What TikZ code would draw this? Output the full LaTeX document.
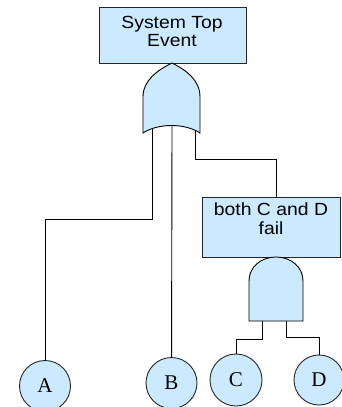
\documentclass[tikz,border=0pt]{standalone}
\usepackage{fontspec}
\newfontfamily\boxfont[FakeStretch=1.1]{Liberation Sans}
\newfontfamily\evfont{Liberation Serif}
\definecolor{evfill}{RGB}{204,234,255}
\begin{document}
\begin{tikzpicture}[x=1pt,y=-1pt,
  line width=0.9pt,
  eventbox/.style={draw=black!85, fill=evfill, minimum width=147pt, minimum height=56pt, inner sep=0pt, anchor=north west,
    align=center, font=\boxfont\fontsize{17.6}{18.4}\selectfont},
  boxtext/.style={font=\boxfont\fontsize{17.6}{18.4}\selectfont, align=center, inner sep=0pt, anchor=north},
  basic/.style={draw=black!85, fill=evfill, circle, minimum size=51pt, inner sep=0pt, font=\evfont\fontsize{21}{21}\selectfont},
  gate/.style={draw=black, fill=evfill, line width=0.9pt},
  wire/.style={draw=black, line width=0.9pt}]
\useasboundingbox (0,0) rectangle (341,407);
% top event
\node[eventbox] (top) at (99,7) {};
\node[boxtext] (toptext) at (172,15.5) {System Top\\Event};
% intermediate event
\node[eventbox, minimum width=138pt, minimum height=60pt] (mid) at (202,197) {};
\node[boxtext] (midtext) at (271,202.5) {both C and D\\fail};
% basic events
\node[basic] (A) at (45,386) {A};
\node[basic] (B) at (171.5,383) {B};
\node[basic, minimum size=52pt] (C) at (236,380) {C};
\node[basic, minimum size=50pt] (D) at (319,380) {D};
% gate input coordinates
\coordinate (orA) at (152,126);
\coordinate (orB) at (172,126);
\coordinate (orC) at (195,126);
\coordinate (andC) at (262,318);
\coordinate (andD) at (286,318);
% connectors
\draw[wire] (orA) -- (152,219) -| (A);
\draw[wire] (orB) -- (B);
\draw[wire] (orC) -- (195,159) -| (mid.north -| 276,0);
\draw[wire] (andC) -- (262,339) -| (C);
\draw[wire] (andD) -- (286,337) -| (D);
% OR gate
\draw[gate] (172,63) .. controls (186,70) and (200,80) .. (200,97) -- (200,133)
  .. controls (185,123) and (158,123) .. (143,133) -- (143,97)
  .. controls (143,80) and (158,70) .. (172,63) -- cycle;
% AND gate
\draw[gate] (249,321) -- (249,281) .. controls (249,267) and (261,257) .. (276,257)
  .. controls (291,257) and (303,267) .. (303,281) -- (303,321) -- cycle;
\end{tikzpicture}
\end{document}
